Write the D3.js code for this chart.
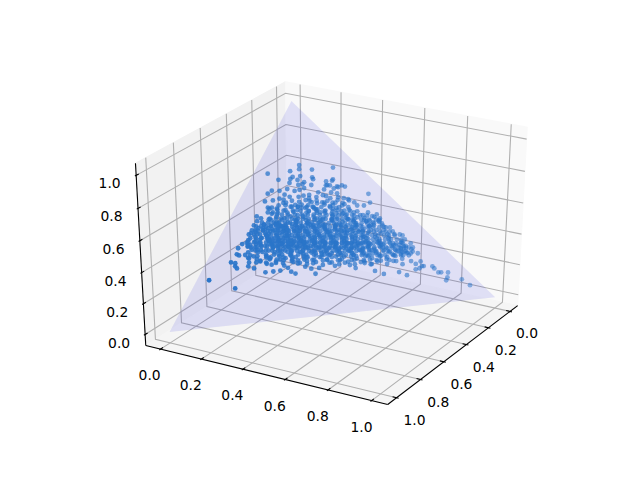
<!DOCTYPE html>
<html>
<head>
<meta charset="utf-8">
<script src="https://cdn.jsdelivr.net/npm/d3@7"></script>
<style>
body { margin: 0; background: white; }
text { font-family: "DejaVu Sans", sans-serif; font-size: 13.89px; fill: black; }
</style>
</head>
<body>
<script>
const w = 640;
const h = 480;

// view of the 3d axes
const elev = 30;
const azim = 30;
const dist = 10;

const limits = [-0.05, 1.05];
const tickValues = [0, 0.2, 0.4, 0.6, 0.8, 1.0];

// corners of the simplex plane (x, y, z)
const triangleX = [1, 0, 0];
const triangleY = [0, 1, 0];
const triangleZ = [0, 0, 1];

// samples, y and z of every dot. x closes the simplex (x + y + z = 1)
const sampleY = [
  // top
  .134,.248,.115,.047,.141,.183,.156,.133,.129,.197,.203,.092,.154,.179,.249,.267,.133,.165,.177,.207,.259,.268,.293,.307,
  .089,.081,.114,.136,.163,.177,.189,.256,.305,.242,.284,.137,.085,.109,.127,.157,.186,.200,.217,.244,.274,.315,.351,.347,.365,
  .147,.136,.105,.118,.135,.113,.129,.145,.101,.084,.093,.121,.090,.102,.089,.128,.132,
  // upper right
  .408,.428,.470,.487,.535,.438,.413,.391,.376,.356,.319,.298,.286,.268,.255,.541,.579,.471,
  // right tail
  .670,.631,.614,.647,.644,.693,.711,.690,.701,.640,.671,.593,.559,.491,.467,.740,.750,.770,.779,.802,.808,.809,.859,.896,.705,.596,.512,.537,.420,
  // lower left
  .039,.136,.079,.094,.078,.084,.084,.093,.099,.108,.112,.117,.129,.130,.131,.153,.141,.137,.163,.160,.171,.192,.206,.230,.251,.255,.271,.288,.305,.325,.348,.370,.372,.366,.306,
  // dense middle
  .177,.200,.229,.251,.277,.306,.335,
  .161,.191,.216,.242,.268,.294,.320,.349,.378,.401,
  .146,.162,.181,.204,.227,.246,.265,.285,.307,.327,.346,.369,.391,.417,.440,
  .130,.150,.166,.185,.201,.221,.237,.256,.276,.292,.311,.331,.347,.366,.386,.405,.428,.453,.476,
  .111,.131,.150,.166,.186,.202,.221,.237,.257,.273,.292,.308,.328,.344,.363,.380,.399,.415,.435,.454,.476,.502,
  .099,.115,.131,.147,.164,.180,.196,.215,.231,.248,.267,.283,.303,.319,.338,.354,.374,.390,.409,.425,.445,.461,.480,.500,.522,
  .092,.111,.128,.144,.160,.179,.195,.212,.228,.247,.263,.279,.296,.315,.331,.351,.367,.383,.402,.418,.438,.454,.473,.489,.509,.528,.551,
  .105,.125,.144,.160,.180,.196,.212,.228,.248,.264,.280,.299,.316,.332,.351,.367,.383,.403,.419,.438,.455,.474,.490,.509,.529,.545,.564,.590,
  .100,.119,.135,.154,.171,.190,.206,.222,.242,.258,.274,.293,.310,.326,.345,.361,.381,.397,.413,.432,.449,.468,.484,.500,.520,.539,.558,.578,.604,
  .100,.119,.139,.158,.178,.194,.213,.229,.246,.265,.281,.297,.317,.333,.349,.368,.384,.404,.420,.436,.456,.472,.491,.507,.527,.543,.562,.582,.604,.630,
  .149,.168,.188,.207,.227,.246,.265,.282,.301,.317,.337,.353,.372,.388,.408,.424,.443,.459,.479,.498,.517,.537,.556,.576,.598,.621,.644,
  .171,.191,.210,.233,.252,.271,.291,.310,.330,.349,.368,.388,.407,.427,.446,.465,.485,.507,.530,.553,.575,.598,.624,.650,
  .204,.230,.256,.282,.308,.333,.359,.385,.411,.437,.463,.489,.514,.540,.566,.592,.618,
  .232,.271,.310,.342,.384,.426,.465,.504,.546,.588,
  // dense middle, second pass
  .195,.214,.238,.262,.272,.299,.318,.336,.358,.372,.392,.227,
  .148,.172,.193,.212,.233,.249,.268,.283,.301,.322,.339,.357,.376,.398,.412,.436,.458,
  .122,.141,.158,.176,.192,.211,.226,.243,.262,.281,.298,.314,.337,.352,.371,.393,.407,.423,.447,.468,.491,
  .107,.124,.139,.155,.172,.188,.207,.223,.238,.255,.272,.289,.306,.325,.341,.358,.378,.396,.412,.431,.452,.472,.495,.516,
  .114,.133,.149,.168,.184,.201,.219,.237,.253,.270,.287,.305,.321,.340,.356,.374,.392,.408,.427,.444,.463,.482,.503,.524,.547,
  .128,.146,.163,.181,.197,.216,.233,.251,.268,.286,.303,.322,.339,.355,.373,.391,.409,.426,.444,.462,.479,.498,.517,.536,.556,.577,.599,
  .143,.161,.179,.199,.216,.236,.255,.273,.291,.309,.327,.346,.364,.382,.401,.419,.437,.456,.475,.494,.513,.532,.552,.571,.591,.612,
  .178,.198,.219,.239,.258,.278,.297,.317,.336,.356,.375,.395,.414,.434,.453,.473,.492,.512,.532,.553,.574,.596,.618,
  .222,.247,.272,.296,.321,.345,.372,.397,.421,.447,.473,.498,.524,.551,.577,.603,.628,
  .153,.175,.199,.224,.246,.271,.295,.319,.344,.369,.393,.418,.441,.465,
  .131,.158,.183,.209,.233,.258,.284,.309,.333,.359,.384,.408,.433,.458,.483,
  .188,.212,.241,.266,.291,.316,.342,.367,.392,.417,.443,.469,.494,.521,.546,
  .165,.192,.218,.245,.276,.302,.331,.356,.383,.411,.438,.466,.488,.515,
  // upper part of the cloud
  .142,.171,.196,.222,.251,.262,.291,.318,.335,.158,.209,.237,.279,.306,
  .112,.139,.166,.189,.214,.231,.256,.283,.311,.342,.372,.128,.176,.204,.243,.268,.296,.327,.358,
  .201,.228,.257,.286,.315,.339,.155,.181,.214,.248,.272,.303,.334,
  // dense middle, third pass
  .138,.157,.176,.195,.218,.241,.259,.281,.302,.328,.353,.382,.404,.426,.447,.466,.486,
  .094,.109,.127,.144,.166,.184,.204,.219,.241,.258,.277,.296,.316,.333,.354,.374,.399,.418,.437,.458,.479,.508,
  .097,.116,.136,.152,.176,.194,.213,.231,.249,.266,.284,.301,.317,.334,.352,.369,.387,.404,.423,.441,.459,.477,.499,.519,.538,.561,
  .106,.121,.141,.159,.177,.193,.211,.229,.245,.263,.279,.297,.314,.331,.348,.366,.386,.402,.421,.439,.457,.476,.493,.511,.531,.551,.571,.593,
  .136,.154,.172,.189,.207,.224,.242,.262,.279,.296,.314,.333,.351,.371,.389,.406,.424,.443,.461,.481,.499,.519,.541,.562,.583,.605,
  .162,.182,.203,.224,.243,.262,.283,.302,.322,.341,.361,.381,.402,.422,.441,.462,.481,.503,.524,.545,.567,.588,.611,.634,
  .198,.221,.244,.268,.291,.313,.337,.361,.384,.408,.431,.456,.479,.503,.528,.551,.576,.601,
  // centre of the cloud, fourth pass
  .171,.186,.201,.217,.233,.249,.264,.279,.295,.311,.327,.342,.358,.374,.389,.405,.421,.437,.452,.468,
  .147,.163,.178,.194,.209,.226,.241,.257,.272,.288,.304,.319,.335,.351,.366,.382,.398,.414,.429,.445,
  .186,.201,.217,.232,.248,.263,.279,.294,.311,.326,.342,.357,.373,.389,.404,.419,.436,.452,.468,.484,
  .204,.222,.238,.255,.271,.288,.304,.321,.338,.354,.371,.388,.404,.421,.438,.455,.472,.489,.506,.523,
  .159,.174,.191,.207,.223,.239,.256,.272,.289,.305,.322,.338,.355,.372,.388,.405,.422,
  // lower edge
  .196,.224,.247,.279,.301,.326,.352,.379,.404,.431,.456,.482,.508,.534,.561,.587,.612,.638,.661,.681,
  .096,.105,.118,.124,.137,.148,.112,.126,.141,.156,.170,.184,.196,.213,
  // clump towards the tail
  .596,.608,.618,.627,.603,.635,.615,.642,.588,.625
];
const sampleZ = [
  .700,.674,.676,.674,.681,.674,.649,.648,.640,.638,.629,.641,.632,.619,.613,.614,.622,.609,.611,.603,.595,.593,.585,.588,
  .594,.582,.590,.595,.583,.586,.592,.577,.553,.566,.560,.570,.548,.549,.554,.558,.554,.557,.558,.545,.545,.535,.521,.500,.484,
  .533,.523,.518,.516,.510,.496,.494,.491,.472,.483,.461,.443,.443,.420,.404,.464,.420,
  .537,.496,.438,.418,.372,.451,.485,.488,.504,.515,.581,.581,.577,.619,.595,.353,.335,.403,
  .240,.271,.273,.243,.235,.201,.178,.167,.170,.162,.144,.161,.179,.201,.218,.173,.162,.142,.141,.137,.115,.102,.099,.068,.179,.298,.220,.212,.221,
  .214,.165,.285,.279,.346,.363,.319,.313,.265,.255,.354,.323,.308,.294,.343,.301,.259,.276,.247,.273,.276,.268,.224,.224,.225,.246,.234,.215,.204,.231,.219,.194,.219,.277,.273,
  .512,.509,.504,.501,.497,.492,.488,
  .497,.493,.489,.485,.481,.477,.473,.469,.465,.461,
  .483,.480,.477,.474,.471,.468,.465,.462,.458,.455,.453,.449,.446,.442,.438,
  .467,.464,.462,.459,.456,.454,.451,.448,.445,.443,.440,.437,.435,.432,.429,.426,.422,.418,.415,
  .453,.450,.447,.445,.442,.439,.437,.434,.431,.429,.426,.423,.420,.418,.415,.413,.410,.407,.404,.401,.398,.394,
  .438,.436,.433,.431,.428,.426,.423,.420,.418,.416,.413,.410,.407,.405,.402,.399,.397,.394,.391,.389,.386,.383,.380,.378,.374,
  .421,.418,.416,.413,.411,.408,.405,.403,.401,.398,.395,.393,.390,.387,.385,.382,.380,.377,.374,.372,.369,.366,.363,.361,.358,.355,.352,
  .402,.399,.396,.394,.391,.388,.386,.383,.381,.378,.376,.373,.370,.368,.365,.362,.360,.357,.355,.352,.349,.346,.344,.341,.338,.336,.333,.329,
  .386,.383,.381,.378,.375,.372,.370,.367,.365,.362,.360,.357,.354,.352,.349,.346,.344,.341,.339,.336,.333,.330,.328,.325,.323,.320,.317,.314,.310,
  .369,.366,.363,.360,.357,.355,.352,.349,.347,.344,.342,.339,.336,.334,.331,.328,.326,.323,.321,.318,.315,.313,.310,.307,.305,.302,.299,.296,.293,.289,
  .344,.341,.338,.335,.332,.329,.326,.324,.321,.318,.315,.313,.310,.307,.305,.302,.299,.297,.294,.291,.288,.285,.282,.279,.276,.272,.269,
  .323,.320,.317,.314,.311,.308,.305,.302,.299,.296,.293,.290,.288,.285,.282,.279,.276,.272,.269,.266,.262,.259,.255,.251,
  .301,.297,.293,.290,.286,.282,.278,.274,.270,.266,.262,.258,.254,.251,.247,.243,.239,
  .275,.269,.264,.259,.252,.246,.240,.234,.228,.222,
  // dense middle, second pass
  .487,.470,.478,.490,.472,.468,.482,.462,.470,.452,.458,.500,
  .472,.455,.468,.452,.463,.444,.456,.473,.449,.461,.444,.452,.437,.443,.434,.427,.432,
  .441,.424,.438,.431,.417,.432,.424,.409,.428,.419,.436,.412,.428,.406,.420,.401,.415,.398,.410,.392,.402,
  .412,.425,.403,.418,.399,.415,.395,.410,.392,.407,.388,.404,.381,.396,.379,.392,.383,.369,.381,.363,.375,.357,.366,.349,
  .390,.374,.389,.366,.382,.361,.378,.356,.373,.351,.369,.348,.364,.341,.358,.337,.352,.331,.346,.326,.342,.319,.335,.314,.326,
  .358,.349,.366,.345,.361,.338,.357,.333,.352,.329,.346,.325,.339,.318,.334,.312,.328,.307,.322,.303,.317,.298,.312,.294,.306,.287,.298,
  .329,.344,.322,.338,.317,.331,.311,.326,.306,.322,.300,.316,.297,.311,.291,.306,.286,.301,.281,.296,.276,.291,.271,.286,.266,.279,
  .304,.289,.299,.284,.296,.279,.291,.273,.288,.268,.282,.263,.278,.259,.273,.255,.268,.250,.263,.246,.258,.242,.252,
  .268,.258,.263,.249,.256,.243,.251,.238,.245,.231,.240,.226,.233,.221,.228,.216,.222,
  .408,.426,.403,.438,.396,.421,.389,.414,.383,.407,.376,.399,.366,.388,
  .363,.377,.352,.371,.345,.364,.339,.358,.333,.352,.325,.344,.318,.337,.311,
  .334,.346,.326,.341,.319,.334,.313,.327,.306,.322,.299,.315,.291,.307,.283,
  .442,.425,.447,.419,.441,.413,.434,.407,.428,.393,.418,.386,.411,.377,
  // upper part of the cloud
  .548,.539,.531,.543,.528,.551,.534,.522,.528,.521,.517,.524,.516,.512,
  .512,.505,.499,.518,.503,.512,.494,.507,.501,.495,.472,.488,.487,.494,.484,.488,.479,.486,.458,
  .509,.531,.516,.523,.511,.507,.533,.512,.536,.502,.518,.497,.475,
  // dense middle, third pass
  .458,.446,.463,.441,.449,.458,.436,.447,.440,.451,.433,.431,.421,.441,.412,.428,.408,
  .409,.429,.416,.436,.411,.427,.408,.440,.416,.431,.411,.427,.403,.433,.413,.402,.426,.406,.392,.412,.389,.384,
  .378,.402,.383,.398,.374,.401,.379,.397,.373,.392,.379,.396,.372,.389,.369,.386,.364,.379,.358,.373,.351,.368,.347,.362,.342,.339,
  .349,.371,.356,.379,.352,.373,.348,.368,.344,.363,.341,.359,.336,.354,.331,.352,.326,.344,.321,.339,.316,.333,.309,.326,.303,.319,.298,.309,
  .343,.328,.351,.331,.347,.324,.339,.321,.338,.317,.331,.312,.328,.306,.322,.299,.317,.293,.309,.288,.304,.282,.297,.277,.287,.271,
  .318,.298,.311,.291,.307,.286,.302,.281,.298,.277,.293,.272,.287,.268,.282,.262,.277,.258,.272,.253,.265,.248,.259,.246,
  .281,.276,.271,.279,.263,.274,.259,.268,.254,.263,.249,.258,.244,.251,.239,.243,.236,.238,
  // centre of the cloud, fourth pass
  .421,.397,.416,.389,.411,.383,.404,.378,.398,.371,.393,.366,.388,.359,.381,.353,.374,.347,.367,.341,
  .392,.369,.387,.362,.381,.356,.375,.349,.369,.344,.363,.338,.357,.331,.351,.326,.344,.319,.338,.313,
  .362,.341,.356,.336,.351,.329,.346,.323,.341,.318,.335,.311,.329,.305,.323,.299,.316,.293,.311,.286,
  .331,.312,.326,.306,.321,.299,.315,.293,.309,.287,.303,.281,.297,.276,.291,.271,.284,.265,.278,.259,
  .438,.412,.432,.406,.427,.399,.421,.392,.414,.386,.408,.379,.402,.373,.396,.366,.388,
  // lower edge
  .286,.262,.279,.258,.251,.243,.247,.231,.238,.226,.234,.219,.228,.211,.223,.205,.214,.197,.207,.192,
  .367,.352,.343,.333,.328,.319,.312,.298,.302,.288,.279,.291,.262,.256,
  // clump towards the tail
  .287,.268,.279,.256,.258,.248,.246,.262,.269,.238
];

let svg = d3.select("body")
            .append("svg")
            .attr("width", w)
            .attr("height", h);

// data -> unit cube
let cube = d3.scaleLinear().domain(limits).range([0, 1]);
// projected coords -> pixels, the mpl axes box
let px = d3.scaleLinear().domain([-0.095, 0.09]).range([80, 576]);
let py = d3.scaleLinear().domain([-0.095, 0.09]).range([427.2, 57.6]);

const el = elev * Math.PI / 180;
const az = azim * Math.PI / 180;
const n = [Math.cos(el) * Math.cos(az), Math.cos(el) * Math.sin(az), Math.sin(el)];
const u = [-Math.sin(az), Math.cos(az), 0];
const v = [n[1] * u[2] - n[2] * u[1], n[2] * u[0] - n[0] * u[2], n[0] * u[1] - n[1] * u[0]];

function dot(a, b) {
    return a[0] * b[0] + a[1] * b[1] + a[2] * b[2];
}

// c is already in cube coords
function projectCube(c) {
    let p = [c[0] - 0.5, c[1] - 0.5, c[2] - 0.5];
    let d = dist - dot(p, n);
    return [px(dot(p, u) / d), py(dot(p, v) / d)];
}

function project(x, y, z) {
    return projectCube([cube(x), cube(y), cube(z)]);
}

// panes stick out of the limits by 1/48
const lo = -1 / 48;
const hi = 1 + 1 / 48;
const line3 = d3.line();

function path3(points) {
    return line3(points.map(projectCube));
}

const panes = [
    {color: "rgb(242,242,242)", pts: [[lo, lo, lo], [hi, lo, lo], [hi, lo, hi], [lo, lo, hi]]},
    {color: "rgb(249,249,249)", pts: [[lo, lo, lo], [lo, hi, lo], [lo, hi, hi], [lo, lo, hi]]},
    {color: "rgb(245,245,245)", pts: [[lo, lo, lo], [hi, lo, lo], [hi, hi, lo], [lo, hi, lo]]}
];

svg.selectAll("path.pane")
    .data(panes)
    .enter()
    .append("path")
    .attr("class", "pane")
    .attr("d", (d) => path3(d.pts) + "Z")
    .attr("fill", (d) => d.color)
    .attr("stroke", (d) => d.color)
    .attr("stroke-width", 1);

// grid, three families of bent lines
let grid = [];
tickValues.forEach((t) => {
    let c = cube(t);
    grid.push([[c, hi, lo], [c, lo, lo], [c, lo, hi]]);
    grid.push([[hi, c, lo], [lo, c, lo], [lo, c, hi]]);
    grid.push([[hi, lo, c], [lo, lo, c], [lo, hi, c]]);
});

svg.selectAll("path.grid")
    .data(grid)
    .enter()
    .append("path")
    .attr("class", "grid")
    .attr("d", path3)
    .attr("fill", "none")
    .attr("stroke", "#b0b0b0")
    .attr("stroke-width", 1.1);

// axis lines
const axisLines = [
    [[lo, hi, lo], [hi, hi, lo]],
    [[hi, lo, lo], [hi, hi, lo]],
    [[hi, lo, lo], [hi, lo, hi]]
];
svg.selectAll("path.axis")
    .data(axisLines)
    .enter()
    .append("path")
    .attr("class", "axis")
    .attr("d", path3)
    .attr("fill", "none")
    .attr("stroke", "black")
    .attr("stroke-width", 1.1);

// ticks and labels
const outward = 0.1 / 12;
const inward = 0.2 / 12;
const labelOut = 0.886 / 12;
const fmt = d3.format(".1f");

const axes = [
    {at: (c, o) => [c, hi + o, lo], dx: 0, dy: 18, anchor: "middle"},
    {at: (c, o) => [hi + o, c, lo], dx: 0, dy: 19, anchor: "middle"},
    {at: (c, o) => [hi + o, lo, c], dx: -4, dy: 1.5, anchor: "end"}
];

axes.forEach((a) => {
    tickValues.forEach((t) => {
        let c = cube(t);
        svg.append("path")
            .attr("d", path3([a.at(c, outward), a.at(c, -inward)]))
            .attr("stroke", "black")
            .attr("stroke-width", 1.1);
        let l = projectCube(a.at(c, labelOut));
        svg.append("text")
            .attr("x", l[0] + a.dx)
            .attr("y", l[1] + a.dy)
            .attr("dy", "0.36em")
            .attr("text-anchor", a.anchor)
            .text(fmt(t));
    });
});

// the plane
svg.append("path")
    .attr("d", d3.line()(triangleX.map((x, i) => project(x, triangleY[i], triangleZ[i]))) + "Z")
    .attr("fill", "#0000d8")
    .attr("fill-opacity", 0.1);

// dots, faded with depth
let dataset = sampleY.map((y, i) => {
    let x = 1 - y - sampleZ[i];
    let p = [cube(x) - 0.5, cube(y) - 0.5, cube(sampleZ[i]) - 0.5];
    return {x: x, y: y, z: sampleZ[i], depth: dot(p, n)};
});
let shade = d3.scaleLinear()
    .domain(d3.extent(dataset, (d) => d.depth))
    .range([0.5, 1]);

svg.selectAll("circle")
    .data(dataset)
    .enter()
    .append("circle")
    .attr("cx", (d) => project(d.x, d.y, d.z)[0])
    .attr("cy", (d) => project(d.x, d.y, d.z)[1])
    .attr("r", 2.4)
    .attr("fill", "#2a75c9")
    .attr("fill-opacity", (d) => shade(d.depth));
</script>
</body>
</html>
